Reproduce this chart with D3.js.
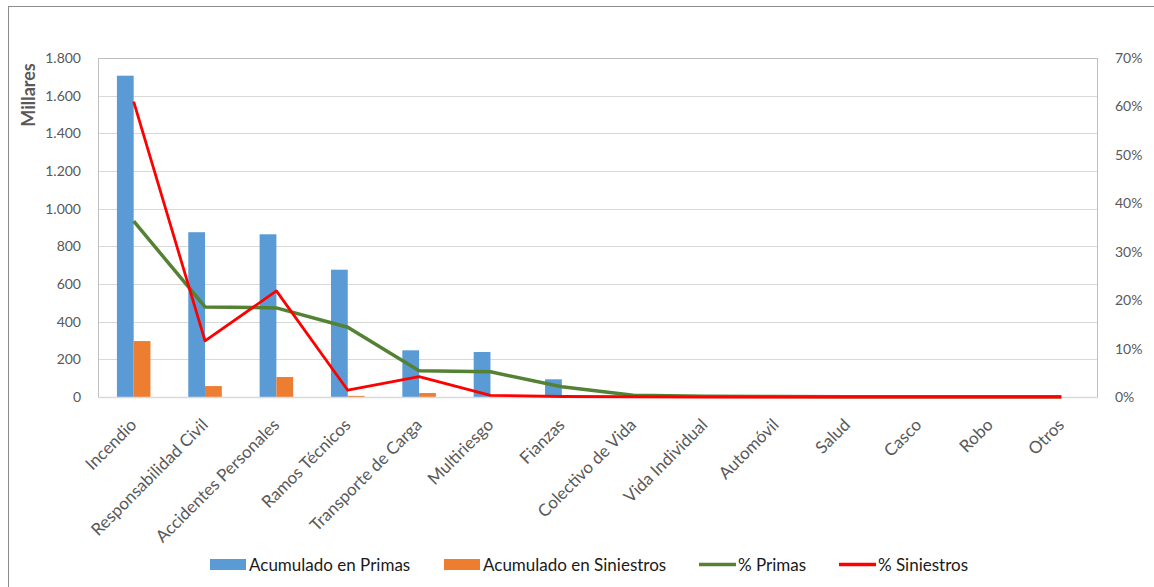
<!DOCTYPE html>
<html>
<head>
<meta charset="utf-8">
<script src="https://cdn.jsdelivr.net/npm/d3@7"></script>
<style>
  html, body { margin: 0; padding: 0; background: #fff; }
  svg { display: block; font-family: Lato, "Open Sans", sans-serif; }
</style>
</head>
<body>
<script>
// datos
const categorias = ["Incendio", "Responsabilidad Civil", "Accidentes Personales", "Ramos Técnicos",
  "Transporte de Carga", "Multiriesgo", "Fianzas", "Colectivo de Vida", "Vida Individual",
  "Automóvil", "Salud", "Casco", "Robo", "Otros"];
const primas = [1706, 875, 864, 676, 248, 239, 94, 3, 1, 1, 0, 0, 0, 0];
const siniestros = [297, 58, 106, 6, 21, 1, 0, 0, 0, 0, 0, 0, 0, 0];
const pctPrimas = [36.3, 18.6, 18.4, 14.4, 5.4, 5.2, 2.1, 0.35, 0.15, 0.1, 0.05, 0.05, 0.05, 0.05];
const pctSiniestros = [61.0, 11.6, 21.9, 1.4, 4.2, 0.35, 0.1, 0.05, 0, 0, 0, 0, 0, 0];
const ticksIzq = [0, 200, 400, 600, 800, 1000, 1200, 1400, 1600, 1800];
const ticksDer = [0, 10, 20, 30, 40, 50, 60, 70];

const W = 1154, H = 587;
const plot = { left: 98, right: 1097, top: 58, bottom: 397 };

const svg = d3.select("body").append("svg")
  .attr("width", W).attr("height", H);

// marco exterior
svg.append("rect")
  .attr("x", 8.5).attr("y", 6.5)
  .attr("width", W).attr("height", H)
  .attr("fill", "none").attr("stroke", "#8c8c8c").attr("stroke-width", 1);

const x = d3.scaleBand().domain(categorias).range([plot.left, plot.right]).paddingInner(0.53).paddingOuter(0.265);
const yL = d3.scaleLinear().domain([0, 1800]).range([plot.bottom, plot.top]);
const yR = d3.scaleLinear().domain([0, 70]).range([plot.bottom, plot.top]);
const fmt = d3.formatLocale({ decimal: ",", thousands: ".", grouping: [3], currency: ["", ""] }).format(",");

// cuadrícula
svg.append("g").selectAll("line").data(ticksIzq.slice(1)).join("line")
  .attr("x1", plot.left).attr("x2", plot.right)
  .attr("y1", d => Math.round(yL(d)) + 0.5).attr("y2", d => Math.round(yL(d)) + 0.5)
  .attr("stroke", "#d9d9d9").attr("stroke-width", 1);

// marco del área de trazado
svg.append("rect")
  .attr("x", plot.left + 0.5).attr("y", plot.top + 0.5)
  .attr("width", plot.right - plot.left).attr("height", plot.bottom - plot.top)
  .attr("fill", "none").attr("stroke", "#bfbfbf").attr("stroke-width", 1);

// eje izquierdo
const axL = svg.append("g").attr("transform", `translate(${plot.left - 14},0)`)
  .call(d3.axisLeft(yL).tickValues(ticksIzq).tickFormat(fmt).tickSize(0));
axL.select(".domain").remove();
axL.selectAll("text").attr("fill", "#595959").attr("font-size", 14).attr("font-family", "Lato, sans-serif");

// eje derecho
const axR = svg.append("g").attr("transform", `translate(${plot.right + 15},0)`)
  .call(d3.axisRight(yR).tickValues(ticksDer).tickFormat(d => d + "%").tickSize(0));
axR.select(".domain").remove();
axR.selectAll("text").attr("fill", "#595959").attr("font-size", 14).attr("font-family", "Lato, sans-serif");

// título eje
svg.append("text")
  .attr("transform", `translate(35,95) rotate(-90)`)
  .attr("text-anchor", "middle")
  .attr("font-size", 18).attr("font-weight", "bold").attr("fill", "#595959")
  .text("Millares");

// barras
const bw = x.bandwidth() / 2;
svg.append("g").selectAll("rect").data(categorias).join("rect")
  .attr("x", d => x(d)).attr("width", bw)
  .attr("y", (d, i) => yL(primas[i])).attr("height", (d, i) => plot.bottom - yL(primas[i]))
  .attr("fill", "#5b9bd5");
svg.append("g").selectAll("rect").data(categorias).join("rect")
  .attr("x", d => x(d) + bw).attr("width", bw)
  .attr("y", (d, i) => yL(siniestros[i])).attr("height", (d, i) => plot.bottom - yL(siniestros[i]))
  .attr("fill", "#ed7d31");

// eje inferior
svg.append("line")
  .attr("x1", plot.left).attr("x2", plot.right + 1)
  .attr("y1", plot.bottom + 0.5).attr("y2", plot.bottom + 0.5)
  .attr("stroke", "#d9d9d9").attr("stroke-width", 1.5);

// líneas
const cx = d => x(d) + x.bandwidth() / 2;
const lineP = d3.line().x((d, i) => cx(categorias[i])).y(d => yR(d));
svg.append("path").datum(pctPrimas).attr("d", lineP)
  .attr("fill", "none").attr("stroke", "#548235").attr("stroke-width", 3.5).attr("stroke-linejoin", "round");
svg.append("path").datum(pctSiniestros).attr("d", lineP)
  .attr("fill", "none").attr("stroke", "#ff0000").attr("stroke-width", 2.8).attr("stroke-linejoin", "round");

// etiquetas categorías
svg.append("g").selectAll("text").data(categorias).join("text")
  .attr("transform", d => `translate(${cx(d) + 4},${plot.bottom + 29}) rotate(-45)`)
  .attr("text-anchor", "end")
  .attr("font-size", 17).attr("fill", "#595959")
  .text(d => d);

// leyenda
const ley = [
  { t: "Acumulado en Primas", c: "#5b9bd5", tipo: "rect", x: 210 },
  { t: "Acumulado en Siniestros", c: "#ed7d31", tipo: "rect", x: 444 },
  { t: "% Primas", c: "#548235", tipo: "line", x: 699 },
  { t: "% Siniestros", c: "#ff0000", tipo: "line", x: 839 }
];
const gl = svg.append("g");
ley.forEach(l => {
  if (l.tipo === "rect") {
    gl.append("rect").attr("x", l.x).attr("y", 559).attr("width", 36).attr("height", 11).attr("fill", l.c);
  } else {
    gl.append("line").attr("x1", l.x).attr("x2", l.x + 37).attr("y1", 564.5).attr("y2", 564.5)
      .attr("stroke", l.c).attr("stroke-width", 3.5);
  }
  gl.append("text").attr("x", l.x + (l.tipo === "rect" ? 39 : 39)).attr("y", 570.5)
    .attr("font-size", 17).attr("fill", "#1a1a1a").text(l.t);
});
</script>
</body>
</html>
